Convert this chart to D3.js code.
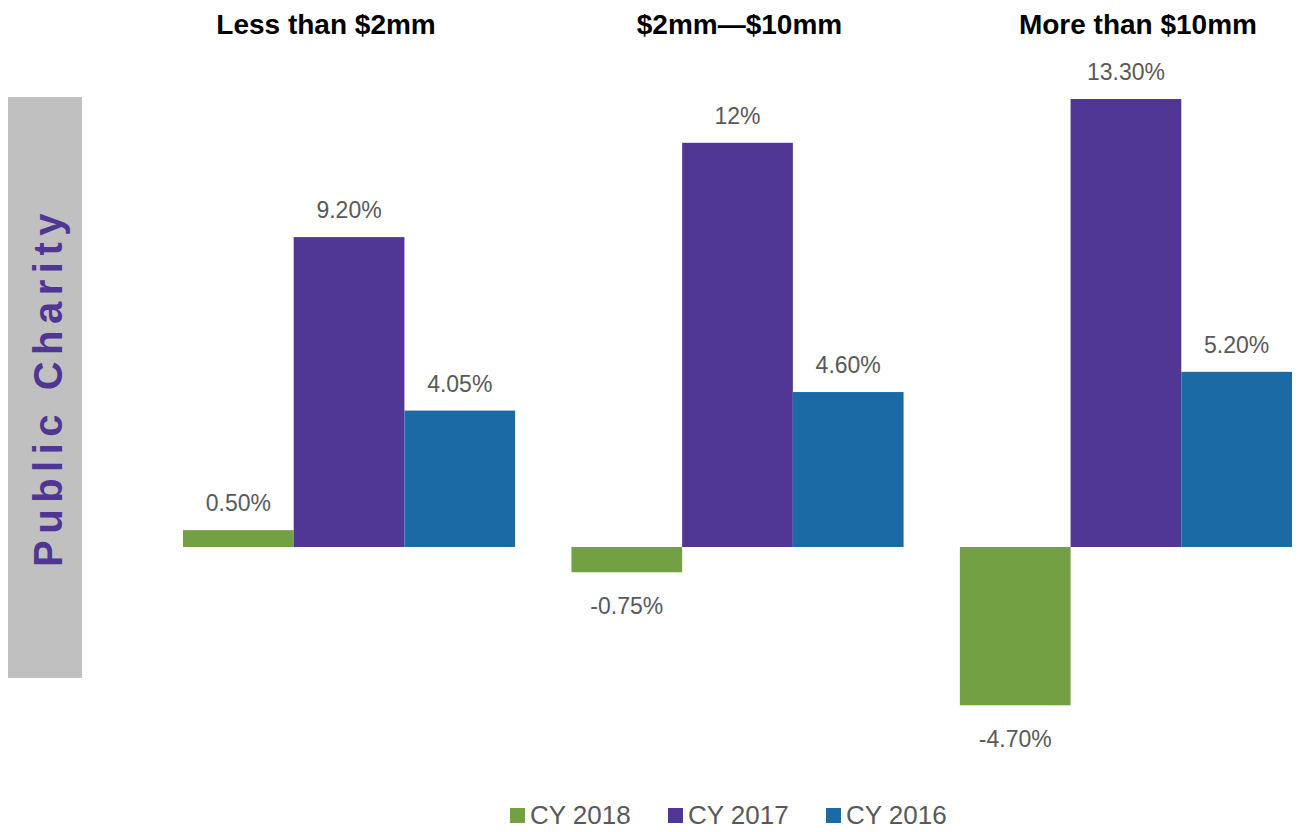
<!DOCTYPE html>
<html>
<head>
<meta charset="utf-8">
<title>Public Charity</title>
<script src="https://d3js.org/d3.v7.min.js"></script>
<style>
  body { margin: 0; background: #fff; }
  svg { display: block; }
</style>
</head>
<body>
<svg width="1299" height="832"></svg>
<script>
    // data
    const groups = ["Less than $2mm", "$2mm\u2014$10mm", "More than $10mm"];
    const series = ["CY 2018", "CY 2017", "CY 2016"];
    const cy2018 = [0.50, -0.75, -4.70];
    const cy2017 = [9.20, 12.00, 13.30];
    const cy2016 = [4.05, 4.60, 5.20];
    const labels2018 = ["0.50%", "-0.75%", "-4.70%"];
    const labels2017 = ["9.20%", "12%", "13.30%"];
    const labels2016 = ["4.05%", "4.60%", "5.20%"];

    const colors = ["#72a043", "#503795", "#1b6aa5"];
    const titleDx = [-23, 2, 12];

    const values = [cy2018, cy2017, cy2016];
    const labels = [labels2018, labels2017, labels2016];

    const rows = [];
    groups.forEach((g, gi) => {
        series.forEach((s, si) => {
            rows.push({group: g, series: s, value: values[si][gi], label: labels[si][gi]});
        });
    });

    const svg = d3.select("svg");

    // side label
    svg.append("rect")
        .attr("x", 8).attr("y", 97)
        .attr("width", 74).attr("height", 581)
        .attr("fill", "#c0c0c0");
    svg.append("text")
        .attr("transform", "translate(62,387) rotate(-90)")
        .attr("text-anchor", "middle")
        .attr("font-family", "Liberation Sans, Arial, sans-serif")
        .attr("font-weight", "bold")
        .attr("font-size", 40)
        .attr("letter-spacing", 6.5)
        .attr("fill", "#4f3693")
        .text("Public Charity");

    var x = d3.scaleBand()
        .domain(groups)
        .range([183, 1292])
        .paddingInner(0.145)
        .paddingOuter(0);
    var xs = d3.scaleBand()
        .domain(series)
        .range([0, x.bandwidth()]);
    var y = d3.scaleLinear()
        .domain([-4.7, 13.3])
        .range([705.3, 99]);

    // group titles
    svg.append("g").selectAll("text").data(groups).enter().append("text")
        .attr("x", (d, i) => x(d) + x.bandwidth() / 2 + titleDx[i])
        .attr("y", 34)
        .attr("text-anchor", "middle")
        .attr("font-family", "Liberation Sans, Arial, sans-serif")
        .attr("font-weight", "bold")
        .attr("font-size", 28)
        .attr("fill", "#000")
        .text(d => d);

    // bars
    svg.append("g").selectAll("rect").data(rows).enter().append("rect")
        .attr("x", d => x(d.group) + xs(d.series))
        .attr("y", d => y(Math.max(0, d.value)))
        .attr("width", xs.bandwidth())
        .attr("height", d => Math.abs(y(d.value) - y(0)))
        .attr("fill", d => colors[series.indexOf(d.series)]);

    // value labels
    svg.append("g").selectAll("text").data(rows).enter().append("text")
        .attr("x", d => x(d.group) + xs(d.series) + xs.bandwidth() / 2)
        .attr("y", d => d.value >= 0 ? y(d.value) - 19 : y(d.value) + 42)
        .attr("text-anchor", "middle")
        .attr("font-family", "Liberation Sans, Arial, sans-serif")
        .attr("font-size", 23)
        .attr("fill", "#595959")
        .text(d => d.label);

    // legend
    const legendX = d3.scalePoint()
        .domain(series)
        .range([510, 826]);
    const legend = svg.append("g").selectAll("g").data(series).enter().append("g")
        .attr("transform", d => "translate(" + legendX(d) + ",808)");
    legend.append("rect")
        .attr("width", 15).attr("height", 15)
        .attr("fill", (d, i) => colors[i]);
    legend.append("text")
        .attr("x", 20)
        .attr("y", 16)
        .attr("font-family", "Liberation Sans, Arial, sans-serif")
        .attr("font-size", 26)
        .attr("fill", "#595959")
        .text(d => d);
</script>
</body>
</html>
